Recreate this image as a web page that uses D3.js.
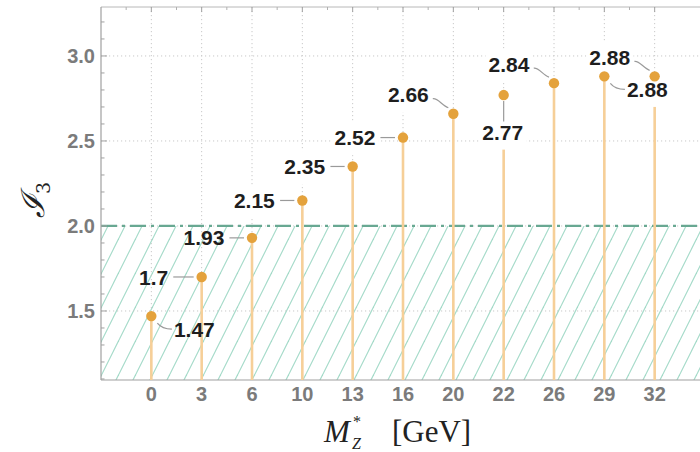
<!DOCTYPE html>
<html><head><meta charset="utf-8">
<script src="https://cdn.jsdelivr.net/npm/d3@7"></script>
<style>body{margin:0;background:#fff}svg{display:block}</style>
</head><body>
<svg id="c" width="700" height="452"></svg>
<script>
const categories = ["0","3","6","10","13","16","20","22","26","29","32"];
const values = [1.47, 1.7, 1.93, 2.15, 2.35, 2.52, 2.66, 2.77, 2.84, 2.88, 2.88];
const labels = ["1.47","1.7","1.93","2.15","2.35","2.52","2.66","2.77","2.84","2.88","2.88"];
const yTicks = [1.5, 2.0, 2.5, 3.0];
const threshold = 2.0;
// callout side for each label
const placement = ["rightBelow","left","left","left","left","left","leftAbove","below","leftAbove","rightBelow","leftAbove"];

const svg = d3.select("#c");
const L = 101, R = 705, T = 7, B = 380;
const x = d3.scalePoint().domain(categories).range([L, R]).padding(1);
const y = d3.scaleLinear().domain([1.094, 3.288]).range([B, T]);
const W = 700;

// hatch pattern
const defs = svg.append("defs");
const pat = defs.append("pattern").attr("id","hatch").attr("patternUnits","userSpaceOnUse")
  .attr("width",17).attr("height",34);
[-17,0,17].forEach(o=>{
  pat.append("line").attr("x1",o).attr("y1",34).attr("x2",o+17).attr("y2",0)
    .attr("stroke","#a3dac8").attr("stroke-width",1.2);
});
svg.append("rect").attr("x",L).attr("y",y(threshold)).attr("width",W-L).attr("height",B-y(threshold))
  .attr("fill","url(#hatch)");

// grid
const grid = svg.append("g");
categories.forEach(c=>{
  grid.append("line").attr("x1",x(c)).attr("x2",x(c)).attr("y1",T).attr("y2",B)
    .attr("stroke","#c8c8c8").attr("stroke-width",1).attr("stroke-dasharray","1.2,2.8");
});
yTicks.forEach(v=>{
  grid.append("line").attr("x1",L).attr("x2",W).attr("y1",y(v)).attr("y2",y(v))
    .attr("stroke","#c8c8c8").attr("stroke-width",1).attr("stroke-dasharray","1.2,2.8");
});

// threshold dashed line
svg.append("line").attr("x1",L).attr("x2",W).attr("y1",y(threshold)).attr("y2",y(threshold))
  .attr("stroke","#68a892").attr("stroke-width",2.2).attr("stroke-dasharray","16,5,3,5");

// frame
svg.append("line").attr("x1",L).attr("x2",W).attr("y1",T).attr("y2",T).attr("stroke","#b8b8b8").attr("stroke-width",1);
svg.append("line").attr("x1",L).attr("x2",L).attr("y1",T).attr("y2",B).attr("stroke","#a0a0a0").attr("stroke-width",1.2);
svg.append("line").attr("x1",L).attr("x2",W).attr("y1",B).attr("y2",B).attr("stroke","#a0a0a0").attr("stroke-width",1.2);

// y minor/major ticks
d3.range(11, 33).map(d=>d/10).forEach(v=>{
  const major = Math.abs(v*2 - Math.round(v*2))<1e-9;
  svg.append("line").attr("x1",L).attr("x2",L+(major?6:3.5)).attr("y1",y(v)).attr("y2",y(v))
    .attr("stroke","#a0a0a0").attr("stroke-width",1);
});
// top / bottom ticks
const step = x.step();
categories.forEach(c=>{
  svg.append("line").attr("x1",x(c)).attr("x2",x(c)).attr("y1",T).attr("y2",T+5).attr("stroke","#a0a0a0");
  svg.append("line").attr("x1",x(c)-step/2).attr("x2",x(c)-step/2).attr("y1",T).attr("y2",T+3).attr("stroke","#b0b0b0");
  svg.append("line").attr("x1",x(c)).attr("x2",x(c)).attr("y1",B).attr("y2",B-5).attr("stroke","#a0a0a0");
});

// tick labels
const tickFont = "'Liberation Sans', Arial, sans-serif";
yTicks.forEach(v=>{
  svg.append("text").attr("x",L-6).attr("y",y(v)).attr("dy","0.36em").attr("text-anchor","end")
    .attr("font-family",tickFont).attr("font-weight","bold").attr("font-size",20).attr("fill","#7b7b7b")
    .text(d3.format(".1f")(v));
});
categories.forEach(c=>{
  svg.append("text").attr("x",x(c)).attr("y",B+21).attr("text-anchor","middle")
    .attr("font-family",tickFont).attr("font-weight","bold").attr("font-size",20).attr("fill","#7b7b7b")
    .text(c);
});

// stems
const pts = categories.map((c,i)=>({c, v:values[i], lab:labels[i], pl:placement[i], px:x(c), py:y(values[i])}));
svg.append("g").selectAll("line").data(pts).join("line")
  .attr("x1",d=>d.px).attr("x2",d=>d.px).attr("y1",B).attr("y2",d=>d.py)
  .attr("stroke","#f6cf98").attr("stroke-width",2.6);

// labels
const offs = {rightBelow:[43,13], left:[-48,0], leftAbove:[-45,-19], below:[-1,37]};
const lg = svg.append("g");
const labFont = "'Liberation Sans', Arial, sans-serif";
pts.forEach(d=>{
  const [dx,dy] = offs[d.pl];
  const cx = d.px+dx, cy = d.py+dy;
  const t = lg.append("text").attr("x",cx).attr("y",cy).attr("dy","0.36em").attr("text-anchor","middle")
    .attr("font-family",labFont).attr("font-weight","bold").attr("font-size",21).attr("fill","#1e1e1e")
    .text(d.lab);
  const bb = t.node().getBBox();
  if (d.v > threshold) {
    const top = d.pl==="below" ? d.py : bb.y-4;
    const bottom = bb.y+bb.height+6;
    lg.insert("rect","text").attr("x",bb.x-3).attr("y",top).attr("width",bb.width+6).attr("height",bottom-top)
      .attr("fill","#fff");
  }
  const p = d3.path();
  if (d.pl==="left") {
    p.moveTo(bb.x+bb.width+5, d.py); p.lineTo(d.px-8, d.py);
  } else if (d.pl==="below") {
    p.moveTo(d.px, d.py+6); p.lineTo(d.px, bb.y+1);
  } else if (d.pl==="leftAbove") {
    const sx = bb.x+bb.width+4, sy = cy+4, ex = d.px-5, ey = d.py-6;
    p.moveTo(sx,sy); p.bezierCurveTo(sx+5,sy-1, ex-6,ey-2, ex,ey);
  } else {
    const sx = d.px+6, sy = d.py+7, ex = bb.x-2, ey = cy;
    p.moveTo(sx,sy); p.bezierCurveTo(sx+4,sy+5, ex-6,ey, ex,ey);
  }
  lg.append("path").attr("d",p.toString()).attr("fill","none").attr("stroke","#9a9a9a").attr("stroke-width",1.2);
});

// points
svg.append("g").selectAll("circle").data(pts).join("circle")
  .attr("cx",d=>d.px).attr("cy",d=>d.py).attr("r",5.2).attr("fill","#e4a23c");

// axis titles
const yt = svg.append("text").attr("transform","translate(44,200) rotate(-90)").attr("text-anchor","middle")
  .attr("font-family","'DejaVu Serif', 'Liberation Serif', serif").attr("font-style","italic").attr("font-size",32).attr("fill","#222");
yt.append("tspan").text("ℐ");
yt.append("tspan").attr("font-size",19).attr("dy",6).attr("font-style","normal").text("3");

const xt = svg.append("g").attr("font-family","'Liberation Serif', 'Times New Roman', serif").attr("fill","#222");
xt.append("text").attr("x",324).attr("y",442).attr("font-size",31).attr("font-style","italic").text("M");
xt.append("text").attr("x",353).attr("y",427).attr("font-size",16).text("*");
xt.append("text").attr("x",352).attr("y",449).attr("font-size",16).attr("font-style","italic").text("Z");
xt.append("text").attr("x",392).attr("y",442).attr("font-size",31).text("[GeV]");
</script>
</body></html>
